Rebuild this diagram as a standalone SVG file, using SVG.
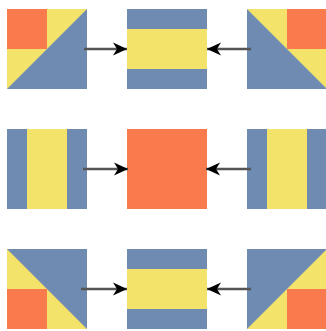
<svg xmlns="http://www.w3.org/2000/svg" width="326" height="331" viewBox="0 0 326 331">
<style>
.b{fill:#6f8bb1}.y{fill:#f4e36b}.o{fill:#f97a4c}
.c{stroke:#555;stroke-width:2.5;fill:none;marker-end:url(#ah)}
</style>
<defs>
<marker id="ah" markerUnits="userSpaceOnUse" markerWidth="16" markerHeight="14" refX="14" refY="7" orient="auto">
<path d="M0,0.5 L14,7 L0,13.5 L4,7 z" fill="#000"/>
</marker>
</defs>
<rect width="326" height="331" fill="#fff"/>
<g id="tl">
<rect class="y" x="7" y="9" width="80" height="80"/>
<polygon class="b" points="7,89 87,9 87,89"/>
<rect class="o" x="7" y="9" width="40" height="40"/>
</g>
<g id="tm">
<rect class="b" x="127" y="9" width="80" height="80"/>
<rect class="y" x="127" y="29" width="80" height="40"/>
</g>
<g id="tr">
<rect class="y" x="247" y="9" width="80" height="80"/>
<polygon class="b" points="247,9 327,89 247,89"/>
<rect class="o" x="287" y="9" width="40" height="40"/>
</g>
<g id="ml">
<rect class="b" x="7" y="129" width="80" height="80"/>
<rect class="y" x="27" y="129" width="40" height="80"/>
</g>
<g id="mm">
<rect class="o" x="127" y="129" width="80" height="80"/>
</g>
<g id="mr">
<rect class="b" x="247" y="129" width="80" height="80"/>
<rect class="y" x="267" y="129" width="40" height="80"/>
</g>
<g id="bl">
<rect class="y" x="7" y="249" width="80" height="80"/>
<polygon class="b" points="7,249 87,249 87,329"/>
<rect class="o" x="7" y="289" width="40" height="40"/>
</g>
<g id="bm">
<rect class="b" x="127" y="249" width="80" height="80"/>
<rect class="y" x="127" y="269" width="80" height="40"/>
</g>
<g id="br">
<rect class="y" x="247" y="249" width="80" height="80"/>
<polygon class="b" points="247,249 327,249 247,329"/>
<rect class="o" x="287" y="289" width="40" height="40"/>
</g>
<g id="connectors">
<line class="c" x1="84" y1="49" x2="127" y2="49"/>
<line class="c" x1="251" y1="49" x2="207" y2="49"/>
<line class="c" x1="83" y1="169" x2="128" y2="169"/>
<line class="c" x1="251" y1="169" x2="206" y2="169"/>
<line class="c" x1="81" y1="289" x2="127" y2="289"/>
<line class="c" x1="251" y1="289" x2="207" y2="289"/>
</g>
</svg>
